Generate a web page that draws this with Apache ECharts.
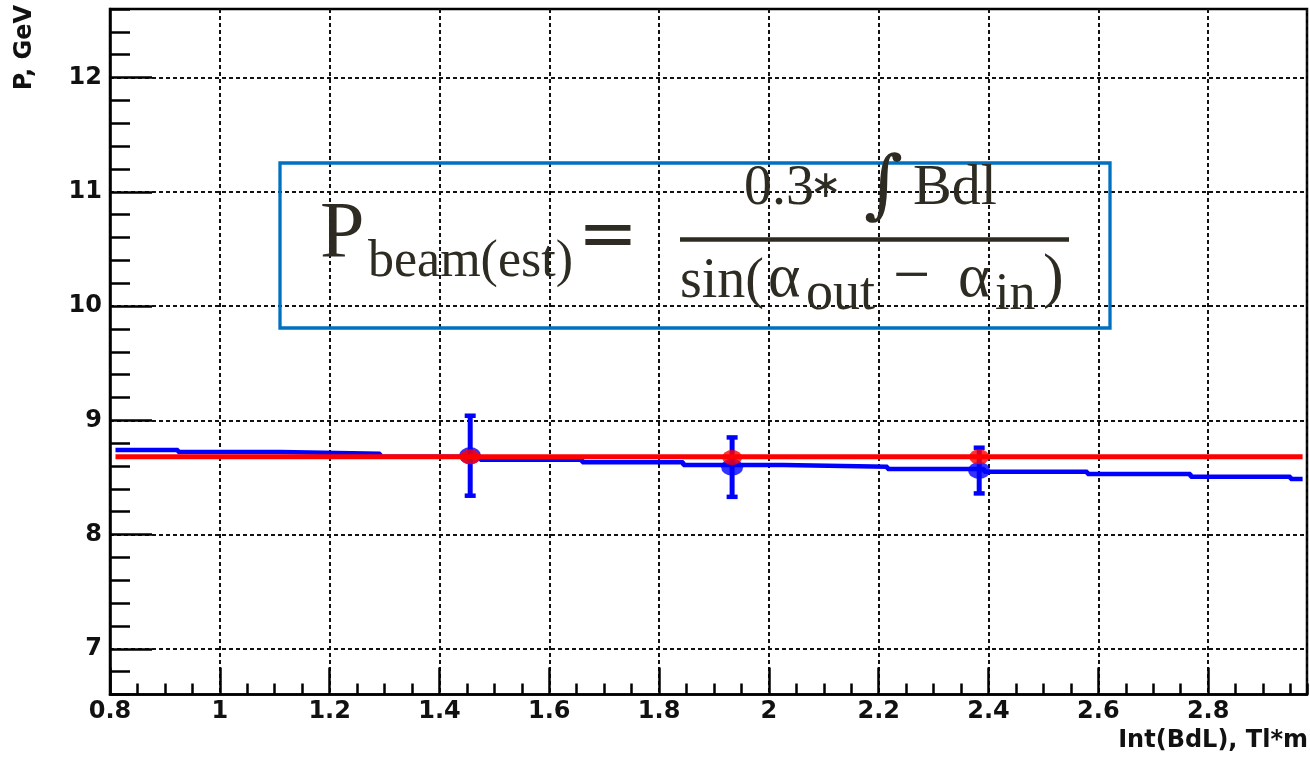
<!DOCTYPE html>
<html>
<head>
<meta charset="utf-8">
<title>P vs Int(BdL)</title>
<script src="https://cdn.jsdelivr.net/npm/echarts@6/dist/echarts.min.js"></script>
<style>
  html, body { margin: 0; padding: 0; background: #ffffff; }
  #chart { width: 1310px; height: 757px; }
</style>
</head>
<body>
<div id="chart"></div>
<script>
// Axis ranges and tick layout
const xRange = [0.8, 2.98];
const yRange = [6.6, 12.6];
const xMajorStep = 0.2;
const xMinorStep = 0.05;
const yMajorTicks = [7, 8, 9, 10, 11, 12];
const yMinorStep = 0.2;

// Histogram of reconstructed momentum per Int(BdL) bin (blue steps)
const binEdges = [0.81, 0.924, 1.11, 1.292, 1.474, 1.66, 1.844, 2.026, 2.216, 2.392, 2.58, 2.768, 2.95, 2.972];
const binValues = [8.74, 8.722, 8.708, 8.682, 8.655, 8.632, 8.609, 8.594, 8.574, 8.55, 8.53, 8.506, 8.486];

// Measured points with errors (blue)
const measX = [1.456, 1.933, 2.383];
const measY = [8.69, 8.59, 8.56];
const measErr = [0.35, 0.26, 0.20];

// Mean values (red points) and constant fit (red line)
const meanY = [8.68, 8.675, 8.68];
const fitValue = 8.68;
const fitRange = [0.81, 2.972];

// Series data built from the arrays above
const histData = binEdges.map((e, i) => [e, i < binValues.length ? binValues[i] : binValues[binValues.length - 1]]);
const errData = measX.map((x, i) => [x, measY[i], measErr[i]]);
const measData = measX.map((x, i) => [x, measY[i]]);
const meanData = measX.map((x, i) => [x, meanY[i]]);
const fitData = [[fitRange[0], fitValue], [fitRange[1], fitValue]];

const AXIS_FONT = 'DejaVu Sans';
const INK = '#2d2b22';
const BLUE = '#0000ff';
const RED = '#ff0000';

const gridRect = { left: 110, right: 3, top: 9, bottom: 62.5 };

// Formula text piece, positioned by its baseline
function piece(text, x, baseline, size, family, extra) {
  const el = {
    type: 'text',
    x: x,
    y: baseline - 0.34 * size,
    z: 100,
    style: {
      text: text,
      fill: INK,
      fontSize: size,
      fontFamily: family,
      align: 'left',
      textAlign: 'left',
      verticalAlign: 'middle',
      textVerticalAlign: 'middle'
    }
  };
  if (extra) {
    Object.assign(el.style, extra.style || {});
    if (extra.x !== undefined) el.x = extra.x;
    if (extra.y !== undefined) el.y = extra.y;
  }
  return el;
}

const SERIF = 'Liberation Serif';

const formula = [
  { type: 'rect', z: 99, shape: { x: 280, y: 163, width: 830, height: 165 },
    style: { fill: 'rgba(0,0,0,0)', stroke: '#0070c0', lineWidth: 3.3 } },
  piece('P', 320, 263, 80, SERIF),
  piece('beam(est)', 368, 280, 52, SERIF),
  piece('=', 608, 0, 72, 'DejaVu Sans', { y: 238, style: { align: 'center', textAlign: 'center' } }),
  { type: 'rect', z: 100, shape: { x: 680, y: 237.3, width: 389, height: 4.4 }, style: { fill: INK } },
  piece('0.3', 744, 208, 56, SERIF),
  piece('\u2217', 826, 0, 38, 'DejaVu Sans', { y: 187, style: { align: 'center', textAlign: 'center' } }),
  piece('\u222B', 864, 215, 75, 'DejaVu Serif'),
  piece('Bdl', 913, 208, 58, SERIF),
  piece('sin(', 680, 301, 56, SERIF),
  piece('\u03B1', 768, 301, 62, SERIF),
  piece('out', 806, 313, 54, SERIF),
  piece('\u2212', 893, 301, 66, SERIF),
  piece('\u03B1', 958, 301, 62, SERIF),
  piece('in', 995, 313, 52, SERIF),
  piece(')', 1043, 301, 62, SERIF)
];

const titleStyle = { fill: '#111', fontSize: 24, fontWeight: 'bold', fontFamily: AXIS_FONT,
  verticalAlign: 'middle', textVerticalAlign: 'middle' };

const axisTitles = [
  {
    type: 'text', x: 24.7, y: 5, rotation: Math.PI / 2, z: 100,
    style: Object.assign({ text: 'P, GeV', align: 'right', textAlign: 'right' }, titleStyle)
  },
  {
    type: 'text', x: 1308, y: 741.2, z: 100,
    style: Object.assign({ text: 'Int(BdL), Tl*m', align: 'right', textAlign: 'right' }, titleStyle)
  }
];

const labelStyle = { color: '#111', fontSize: 24, fontWeight: 'bold', fontFamily: AXIS_FONT };
const fmt = v => String(+(+v).toFixed(2));

const option = {
  animation: false,
  backgroundColor: '#ffffff',
  grid: [
    Object.assign({ show: true, borderColor: '#000', borderWidth: 2.5, backgroundColor: 'rgba(0,0,0,0)',
      containLabel: false, outerBoundsMode: 'none' }, gridRect),
    Object.assign({ show: false, containLabel: false, outerBoundsMode: 'none' }, gridRect)
  ],
  xAxis: [
    {
      type: 'value', gridIndex: 0, min: xRange[0], max: xRange[1], interval: xMajorStep,
      axisLine: { show: true, onZero: false, lineStyle: { color: '#000', width: 2.5 } },
      axisTick: { show: true, inside: true, length: 27, lineStyle: { color: '#000', width: 2.5 } },
      axisLabel: Object.assign({ margin: 5, showMaxLabel: false, formatter: fmt }, labelStyle),
      splitLine: { show: true, lineStyle: { color: '#111', width: 2, type: [4, 3] } }
    },
    {
      type: 'value', gridIndex: 1, min: xRange[0], max: xRange[1], interval: xMinorStep,
      axisLine: { show: false },
      axisTick: { show: true, inside: true, length: 11, lineStyle: { color: '#000', width: 2.5 } },
      axisLabel: { show: false },
      splitLine: { show: false }
    }
  ],
  yAxis: [
    {
      type: 'value', gridIndex: 0, min: yRange[0], max: yRange[1],
      axisLine: { show: true, onZero: false, lineStyle: { color: '#000', width: 2.5 } },
      axisTick: { show: true, inside: true, length: 42, customValues: yMajorTicks,
        lineStyle: { color: '#000', width: 2.5 } },
      axisLabel: Object.assign({ margin: 8, customValues: yMajorTicks, formatter: fmt }, labelStyle),
      splitLine: { show: true, lineStyle: { color: '#111', width: 2, type: [4, 3] } }
    },
    {
      type: 'value', gridIndex: 1, min: yRange[0], max: yRange[1], interval: yMinorStep,
      axisLine: { show: false },
      axisTick: { show: true, inside: true, length: 20, lineStyle: { color: '#000', width: 2.5 } },
      axisLabel: { show: false },
      splitLine: { show: false }
    }
  ],
  series: [
    {
      name: 'histogram', type: 'line', xAxisIndex: 0, yAxisIndex: 0, step: 'end',
      data: histData, showSymbol: false, symbol: 'none', z: 2,
      lineStyle: { color: BLUE, width: 4.5 }
    },
    {
      name: 'errors', type: 'custom', xAxisIndex: 0, yAxisIndex: 0, z: 3,
      data: errData, encode: { x: 0, y: 1 },
      renderItem: function (params, api) {
        const x = api.value(0), y = api.value(1), e = api.value(2);
        const top = api.coord([x, y + e]);
        const bot = api.coord([x, y - e]);
        const cap = 11;
        const st = { stroke: BLUE, lineWidth: 5 };
        return {
          type: 'group',
          children: [
            { type: 'line', shape: { x1: top[0], y1: top[1], x2: bot[0], y2: bot[1] }, style: st },
            { type: 'line', shape: { x1: top[0] - cap / 2, y1: top[1], x2: top[0] + cap / 2, y2: top[1] }, style: { stroke: BLUE, lineWidth: 4.5 } },
            { type: 'line', shape: { x1: bot[0] - cap / 2, y1: bot[1], x2: bot[0] + cap / 2, y2: bot[1] }, style: { stroke: BLUE, lineWidth: 4.5 } }
          ]
        };
      }
    },
    {
      name: 'measured', type: 'scatter', xAxisIndex: 0, yAxisIndex: 0, z: 4,
      data: measData, symbol: 'circle', symbolSize: [22, 17],
      itemStyle: { color: BLUE }
    },
    {
      name: 'fit', type: 'line', xAxisIndex: 0, yAxisIndex: 0, z: 5,
      data: fitData, showSymbol: false, symbol: 'none',
      lineStyle: { color: RED, width: 5 }
    },
    {
      name: 'mean', type: 'scatter', xAxisIndex: 0, yAxisIndex: 0, z: 6,
      data: meanData, symbol: 'circle', symbolSize: [20, 15],
      itemStyle: { color: RED }
    }
  ],
  graphic: axisTitles.concat(formula)
};

const chart = echarts.init(document.getElementById('chart'), null, { renderer: 'canvas' });
chart.setOption(option);
</script>
</body>
</html>
